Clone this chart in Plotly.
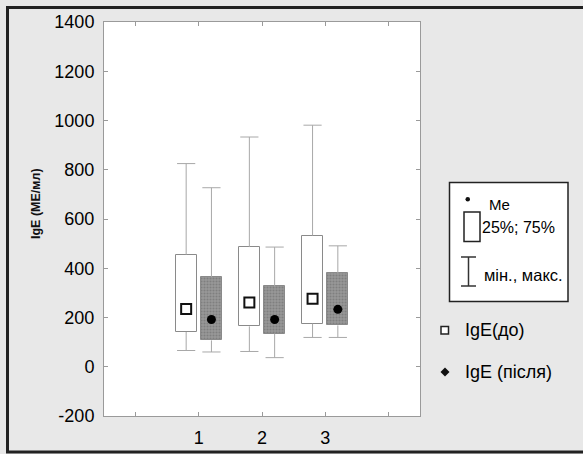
import plotly.graph_objects as go

# ---- data ----
categories = [1, 2, 3]
tick_labels = ["", "1", "2", "3", ""]
y_tick_values = [-200, 0, 200, 400, 600, 800, 1000, 1200, 1400]
y_tick_labels = ["-200", "0", "200", "400", "600", "800", "1000", "1200", "1400"]
# IgE (до)
before_min = [66, 62, 119]
before_q1 = [141, 164, 175]
before_med = [235, 261, 276]
before_q3 = [455, 486, 533]
before_max = [825, 933, 981]
# IgE (після)
after_min = [60, 37, 119]
after_q1 = [107, 135, 168]
after_med = [192, 192, 233]
after_q3 = [364, 326, 380]
after_max = [727, 486, 491]

W, H = 583, 454
L, R, T, B = 104, 420, 22, 416
OFF = 0.2
BW = 0.33

def px(x):
    return (x - L) / (R - L)

def py(y):
    return (B - y) / (B - T)

fig = go.Figure()

def add_group(offset, mn, q1, med, q3, mx, fill, pattern, med_marker):
    xs = [c + offset for c in categories]
    wx, wy = [], []
    for x, a, b, c, d in zip(xs, mn, q1, q3, mx):
        wx += [x, x, None, x, x, None]
        wy += [c, d, None, a, b, None]
    fig.add_trace(go.Scatter(x=wx, y=wy, mode="lines",
                             line=dict(color="#a8a8a8", width=1),
                             hoverinfo="skip", showlegend=False))
    fig.add_trace(go.Scatter(x=xs + xs, y=mn + mx, mode="markers",
                             marker=dict(symbol="line-ew", size=13,
                                         line=dict(color="#a8a8a8", width=1)),
                             hoverinfo="skip", showlegend=False))
    fig.add_trace(go.Bar(x=xs, y=[b - a for a, b in zip(q1, q3)], base=q1,
                         width=BW,
                         marker=dict(color=fill, pattern=pattern,
                                     line=dict(color="#8a8a8a", width=1)),
                         showlegend=False))
    fig.add_trace(go.Scatter(x=xs, y=med, mode="markers", marker=med_marker,
                             showlegend=False))

add_group(-OFF, before_min, before_q1, before_med, before_q3, before_max,
          "white", None,
          dict(symbol="square", size=10, color="white",
               line=dict(color="#111", width=2)))
add_group(OFF, after_min, after_q1, after_med, after_q3, after_max,
          "#8c8c8c", dict(shape=".", fgcolor="#666666", bgcolor="#999999",
                          size=3, solidity=0.4),
          dict(symbol="circle", size=9, color="#000",
               line=dict(color="#000", width=0)))

shapes = []
shapes.append(dict(type="line", xref="paper", yref="paper",
                   x0=px(7.5), x1=px(7.5), y0=py(7.5), y1=py(452),
                   line=dict(color="#222", width=3)))
shapes.append(dict(type="line", xref="paper", yref="paper",
                   x0=px(6), x1=px(590), y0=py(7.5), y1=py(7.5),
                   line=dict(color="#222", width=3)))
shapes.append(dict(type="line", xref="paper", yref="paper",
                   x0=px(6), x1=px(590), y0=py(452), y1=py(452),
                   line=dict(color="#222", width=3)))
shapes.append(dict(type="rect", xref="paper", yref="paper",
                   x0=px(449.5), x1=px(568), y0=py(182.5), y1=py(301.5),
                   fillcolor="white", line=dict(color="#222", width=1.5)))
shapes.append(dict(type="circle", xref="paper", yref="paper",
                   x0=px(465.5), x1=px(470), y0=py(197), y1=py(201.5),
                   fillcolor="#111", line=dict(color="#111", width=0)))
shapes.append(dict(type="rect", xref="paper", yref="paper",
                   x0=px(464), x1=px(480), y0=py(212), y1=py(241.5),
                   fillcolor="white", line=dict(color="#222", width=1.5)))
shapes.append(dict(type="line", xref="paper", yref="paper",
                   x0=px(468.5), x1=px(468.5), y0=py(257), y1=py(286),
                   line=dict(color="#333", width=1.5)))
for yy in (257, 286):
    shapes.append(dict(type="line", xref="paper", yref="paper",
                       x0=px(461), x1=px(476), y0=py(yy), y1=py(yy),
                       line=dict(color="#333", width=1.5)))
shapes.append(dict(type="rect", xref="paper", yref="paper",
                   x0=px(441), x1=px(448.5), y0=py(326.5), y1=py(334),
                   fillcolor="white", line=dict(color="#222", width=1.5)))
cx, cy, r = 445, 372, 4.5
shapes.append(dict(type="path", xref="paper", yref="paper",
                   path=f"M {px(cx)} {py(cy - r)} L {px(cx + r)} {py(cy)} "
                        f"L {px(cx)} {py(cy + r)} L {px(cx - r)} {py(cy)} Z",
                   fillcolor="#111", line=dict(color="#111", width=0)))

FONT = "Liberation Sans, Arial, sans-serif"
annotations = [
    dict(text="<b>IgE (МЕ/мл)</b>", x=px(27), y=py(204), xref="paper",
         yref="paper", textangle=-90, showarrow=False,
         font=dict(size=12.5, color="#111", family=FONT)),
    dict(text="Me", x=px(487), y=py(204), xanchor="left", yanchor="middle",
         xref="paper", yref="paper", showarrow=False,
         font=dict(size=15, color="#000", family=FONT)),
    dict(text="25%; 75%", x=px(480), y=py(227), xanchor="left",
         yanchor="middle", xref="paper", yref="paper", showarrow=False,
         font=dict(size=16, color="#000", family=FONT)),
    dict(text="мін., макс.", x=px(482), y=py(275), xanchor="left",
         yanchor="middle", xref="paper", yref="paper", showarrow=False,
         font=dict(size=16.5, color="#000", family=FONT)),
    dict(text="IgE(до)", x=px(463), y=py(330), xanchor="left",
         yanchor="middle", xref="paper", yref="paper", showarrow=False,
         font=dict(size=18, color="#000", family=FONT)),
    dict(text="IgE (після)", x=px(463), y=py(372), xanchor="left",
         yanchor="middle", xref="paper", yref="paper", showarrow=False,
         font=dict(size=18, color="#000", family=FONT)),
]

axis_common = dict(showgrid=False, zeroline=False, showline=True,
                   linecolor="#9a9a9a", linewidth=1, mirror="ticks",
                   ticks="inside", ticklen=4, tickcolor="#9a9a9a",
                   automargin=False,
                   tickfont=dict(size=18, color="#000", family=FONT))

fig.update_layout(
    width=W, height=H,
    margin=dict(l=L, r=W - R, t=T, b=H - B, pad=0, autoexpand=False),
    paper_bgcolor="#e8e8e8", plot_bgcolor="white",
    barmode="overlay", bargap=0,
    shapes=shapes, annotations=annotations,
    showlegend=False,
    xaxis=dict(range=[-0.5, 4.5], tickvals=[0, 1, 2, 3, 4],
               ticktext=tick_labels, ticklabelstandoff=5, **axis_common),
    yaxis=dict(range=[-200, 1400], tickvals=y_tick_values,
               ticktext=y_tick_labels, ticklabelstandoff=5, **axis_common),
)

fig.write_html("out.html")
